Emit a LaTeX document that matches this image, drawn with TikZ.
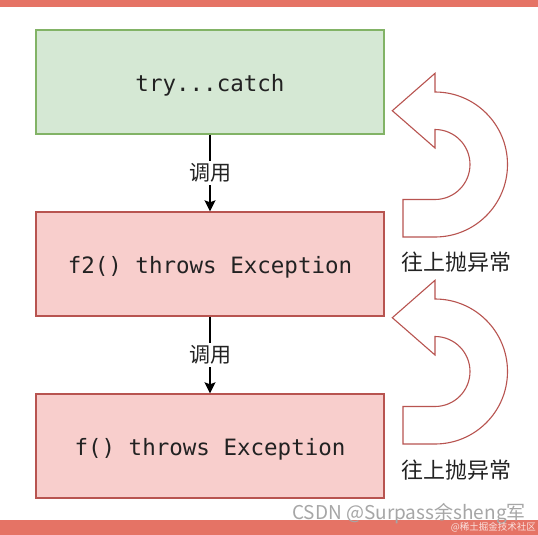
\documentclass[tikz,border=0pt]{standalone}
\usepackage{fontspec}
\setmonofont{DejaVu Sans Mono}
\newfontfamily\cjk{Noto Sans CJK SC}
\usetikzlibrary{arrows.meta}
\definecolor{gfill}{HTML}{D5E8D4}
\definecolor{gline}{HTML}{82B366}
\definecolor{rfill}{HTML}{F8CECC}
\definecolor{rline}{HTML}{B85450}
\definecolor{barred}{RGB}{229,115,101}
\definecolor{txt}{HTML}{222222}
\tikzset{
  box/.style={draw, line width=1.4pt, minimum width=348pt, minimum height=104pt, inner sep=0pt,
    text height=19pt, text depth=0pt,
    font=\ttfamily\fontsize{22.5}{24}\selectfont, text=txt},
  gbox/.style={box, fill=gfill, draw=gline},
  rbox/.style={box, fill=rfill, draw=rline},
  call/.style={draw=black, line width=1.2pt, -{Stealth[length=11pt,width=11pt,inset=2pt]}},
  lbl/.style={fill=white, inner sep=3pt, font=\cjk\fontsize{21}{23}\selectfont, text=txt},
  uplbl/.style={inner sep=0pt, font=\cjk\fontsize{22}{24}\selectfont, text=txt},
  uturn/.pic={
    \draw[draw=rline, fill=white, line width=1.1pt, line join=miter]
      (-42.7,53.8) -- (0,91.2) -- (0,72.5)
      arc[start angle=90, end angle=-90, radius=72.5]
      -- (-32,-72.5) -- (-32,-35) -- (0,-35)
      arc[start angle=-90, end angle=90, radius=35]
      -- (0,16.5) -- cycle;
  }
}
\begin{document}
\begin{tikzpicture}[x=1pt,y=1pt]
\fill[white] (0,0) rectangle (538,-535);
\useasboundingbox (0,0) rectangle (538,-535);
\fill[barred] (0,0) rectangle (538,-7.5);
\fill[barred] (0,-520) rectangle (538,-535);

\node[gbox] (try) at (210,-82) {try...catch};
\node[rbox] (f2) at (210,-264) {f2() throws Exception};
\node[rbox] (f) at (210,-446) {f() throws Exception};

\draw[call] (try) -- node[lbl] (c1) {调用} (f2);
\draw[call] (f2) -- node[lbl] (c2) {调用} (f);

\pic at (435,-164.5) {uturn};
\pic at (435,-371.5) {uturn};
\node[uplbl] (u1) at (456.5,-262) {往上抛异常};
\node[uplbl] (u2) at (456.5,-470) {往上抛异常};

\node[font=\cjk\fontsize{19}{20}\selectfont, text=black!35, inner sep=0pt] (wm) at (409,-514) {CSDN @Surpass余sheng军};
\node[font=\cjk\fontsize{9.5}{11}\selectfont, text=white!80!barred, inner sep=0pt, anchor=east] (wm2) at (536,-527.5) {@稀土掘金技术社区};
\end{tikzpicture}
\end{document}
